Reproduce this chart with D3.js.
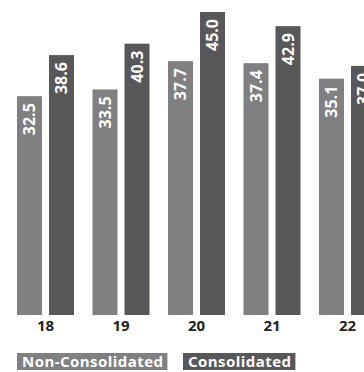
<!DOCTYPE html>
<html>
<head>
<meta charset="utf-8">
<script src="https://cdn.jsdelivr.net/npm/d3@7"></script>
<style>
  html, body { margin: 0; padding: 0; background: #fff; }
  svg { display: block; }
  text { font-family: "Open Sans", "Noto Sans", sans-serif; font-weight: 700; }
</style>
</head>
<body>
<svg id="chart" width="364" height="372"></svg>
<script>
const years = ["18", "19", "20", "21", "22"];
const nonConsolidated = [32.5, 33.5, 37.7, 37.4, 35.1];
const consolidated = [38.6, 40.3, 45.0, 42.9, 37.0];
const seriesNames = ["Non-Consolidated", "Consolidated"];
const seriesColors = ["#808083", "#58585a"];

const svg = d3.select("#chart");
const baseY = 315;

// x: one band per year, inner band per series
const x0 = d3.scaleBand().domain(years).range([17, 376]).paddingInner(18.5 / 75.5).paddingOuter(0);
const x1 = d3.scaleBand().domain(seriesNames).range([0, x0.bandwidth()]).paddingInner(0.21875);
const y = d3.scaleLinear().domain([0, 45]).range([baseY, 12]);

const rows = years.map((yr, i) => ({ year: yr, values: [nonConsolidated[i], consolidated[i]] }));

const groups = svg.selectAll("g.year").data(rows).join("g")
  .attr("class", "year")
  .attr("transform", d => `translate(${x0(d.year)},0)`);

groups.selectAll("rect").data(d => d.values.map((v, j) => ({ v, j }))).join("rect")
  .attr("x", d => x1(seriesNames[d.j]))
  .attr("width", x1.bandwidth())
  .attr("y", d => y(d.v))
  .attr("height", d => baseY - y(d.v))
  .attr("fill", d => seriesColors[d.j]);

groups.selectAll("text.val").data(d => d.values.map((v, j) => ({ v, j }))).join("text")
  .attr("class", "val")
  .attr("transform", d => `translate(${x1(seriesNames[d.j]) + x1.bandwidth() / 2 + 5.5},${y(d.v) + 7}) rotate(-90)`)
  .attr("text-anchor", "end")
  .attr("fill", "#fff")
  .attr("font-size", 16)
  .text(d => d.v.toFixed(1));

// year labels under each pair
const xAxis = d3.axisBottom(x0).tickSize(0).tickPadding(0);
const axisG = svg.append("g").attr("transform", `translate(0,${baseY})`).call(xAxis);
axisG.select(".domain").remove();
axisG.selectAll("text")
  .attr("y", 16)
  .attr("dy", 0)
  .attr("fill", "#222")
  .attr("font-size", 15)
  .style("font-family", '"Open Sans", "Noto Sans", sans-serif')
  .style("font-weight", 700);

// legend: labels on coloured boxes
const legendX = [17, 183];
const legend = svg.selectAll("g.legend").data(seriesNames).join("g")
  .attr("class", "legend")
  .attr("transform", (d, i) => `translate(${legendX[i]},353)`);
legend.each(function(d, i) {
  const g = d3.select(this);
  const t = g.append("text")
    .attr("x", 5)
    .attr("y", 14)
    .attr("fill", "#fff")
    .attr("font-size", 15)
    .attr("letter-spacing", 0.45)
    .text(d);
  const w = t.node().getComputedTextLength();
  g.insert("rect", "text")
    .attr("x", 0).attr("y", 0)
    .attr("width", w + 9).attr("height", 17)
    .attr("fill", seriesColors[i]);
});
</script>
</body>
</html>
